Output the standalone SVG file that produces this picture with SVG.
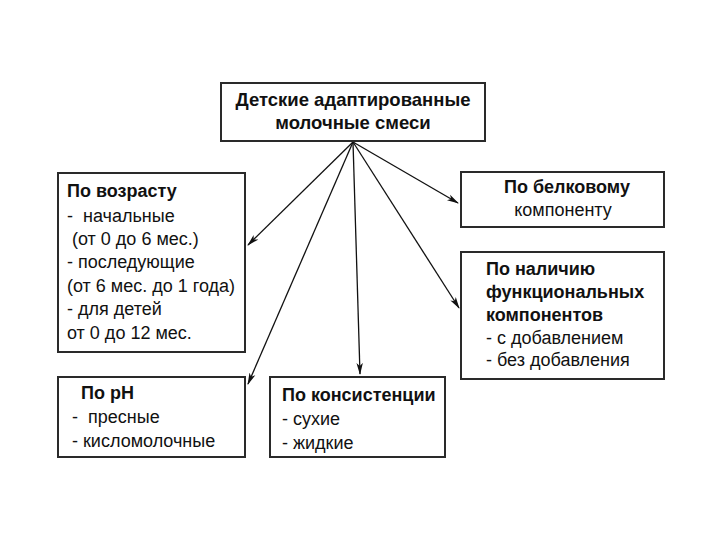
<svg xmlns="http://www.w3.org/2000/svg" width="720" height="540" viewBox="0 0 720 540">
<defs>
<style>
.box{fill:#fff;stroke:#2a2a2a;stroke-width:2}
.t{font-family:"Liberation Sans",Arial,sans-serif;font-size:18px;fill:#111}
.b{font-weight:bold}
.c{text-anchor:middle}
.ln{stroke:#111;stroke-width:1.3;fill:none}
</style>
<marker id="ah" markerWidth="12" markerHeight="8" refX="11" refY="4" orient="auto" markerUnits="userSpaceOnUse">
<path d="M0,0.8 L12,4 L0,7.2 L3,4 Z" fill="#111"/>
</marker>
</defs>
<rect width="720" height="540" fill="#fff"/>
<g id="connectors">
<line class="ln" x1="353" y1="142" x2="248" y2="245" marker-end="url(#ah)"/>
<line class="ln" x1="353" y1="142" x2="248" y2="384" marker-end="url(#ah)"/>
<line class="ln" x1="353" y1="142" x2="360" y2="374" marker-end="url(#ah)"/>
<line class="ln" x1="353" y1="142" x2="458" y2="203" marker-end="url(#ah)"/>
<line class="ln" x1="353" y1="142" x2="459" y2="308" marker-end="url(#ah)"/>
</g>
<g id="root">
<rect class="box" x="221" y="83" width="264" height="58"/>
<text class="t b c" x="353" y="106" style="font-size:18.5px">Детские адаптированные</text>
<text class="t b c" x="353" y="129" style="font-size:18.5px">молочные смеси</text>
</g>
<g id="age">
<rect class="box" x="58" y="173" width="187" height="179"/>
<text class="t b" x="67" y="197">По возрасту</text>
<text class="t" x="67" y="222" xml:space="preserve">-  начальные</text>
<text class="t" x="67" y="245" xml:space="preserve"> (от 0 до 6 мес.)</text>
<text class="t" x="67" y="268">- последующие</text>
<text class="t" x="67" y="292">(от 6 мес. до 1 года)</text>
<text class="t" x="67" y="315">- для детей</text>
<text class="t" x="67" y="339">от 0 до 12 мес.</text>
</g>
<g id="protein">
<rect class="box" x="461" y="172" width="203" height="55"/>
<text class="t b c" x="567" y="193">По белковому</text>
<text class="t c" x="563" y="216">компоненту</text>
</g>
<g id="functional">
<rect class="box" x="461" y="252" width="203" height="127"/>
<text class="t b" x="486" y="275">По наличию</text>
<text class="t b" x="486" y="298">функциональных</text>
<text class="t b" x="486" y="321">компонентов</text>
<text class="t" x="486" y="344">- с добавлением</text>
<text class="t" x="486" y="366">- без добавления</text>
</g>
<g id="ph">
<rect class="box" x="58" y="377" width="187" height="80"/>
<text class="t b" x="81" y="399">По pH</text>
<text class="t" x="72" y="423" xml:space="preserve">-  пресные</text>
<text class="t" x="72" y="447">- кисломолочные</text>
</g>
<g id="consistency">
<rect class="box" x="270" y="377" width="175" height="80"/>
<text class="t b" x="282" y="401">По консистенции</text>
<text class="t" x="282" y="425">- сухие</text>
<text class="t" x="282" y="449">- жидкие</text>
</g>
</svg>
